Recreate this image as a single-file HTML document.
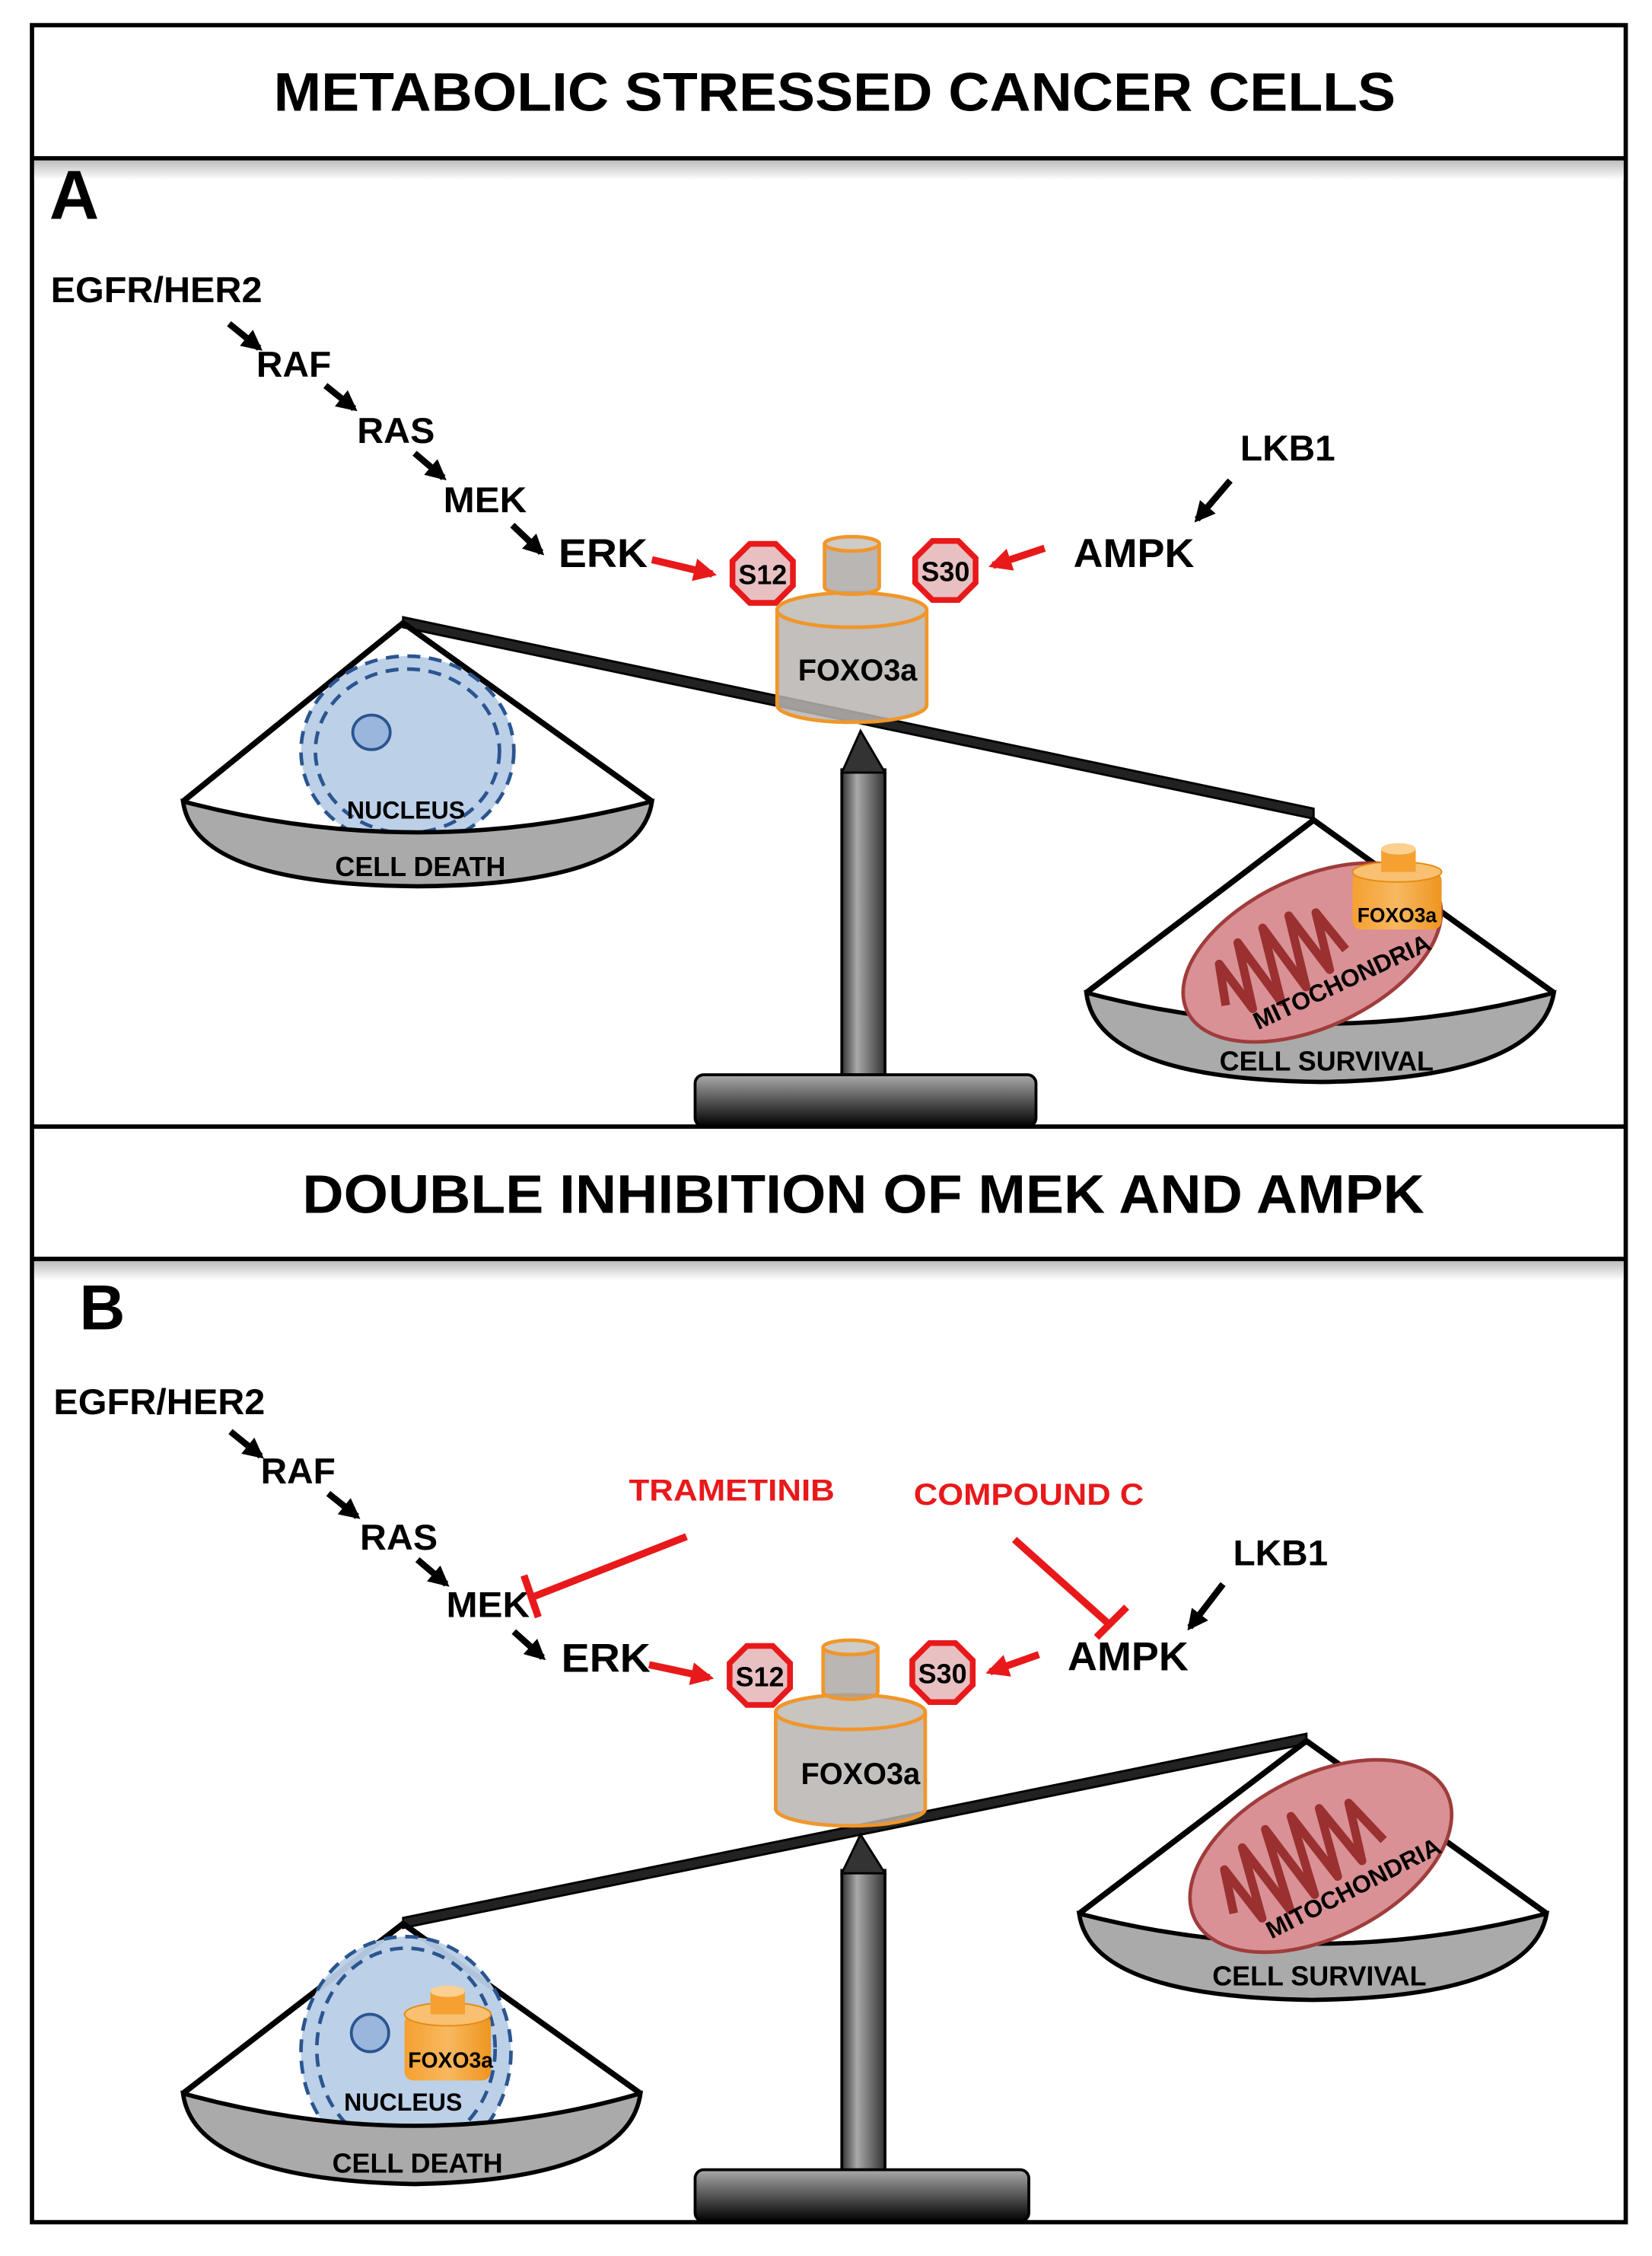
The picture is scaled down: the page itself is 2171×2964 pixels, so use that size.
<!DOCTYPE html>
<html><head><meta charset="utf-8"><style>html,body{margin:0;padding:0;background:#fff}svg{display:block}</style></head>
<body>
<svg width="2171" height="2964" viewBox="0 0 1148 1568" xmlns="http://www.w3.org/2000/svg" font-family="'Liberation Sans Narrow','Liberation Sans',sans-serif" font-weight="bold">
<defs>
<linearGradient id="shd" x1="0" y1="0" x2="0" y2="1"><stop offset="0" stop-color="#bbb"/><stop offset="1" stop-color="#fff"/></linearGradient>
<linearGradient id="post" x1="0" y1="0" x2="1" y2="0"><stop offset="0" stop-color="#333"/><stop offset="0.35" stop-color="#aaa"/><stop offset="1" stop-color="#333"/></linearGradient>
<linearGradient id="base" x1="0" y1="0" x2="0" y2="1"><stop offset="0" stop-color="#aaa"/><stop offset="1" stop-color="#000"/></linearGradient>
<linearGradient id="org" x1="0" y1="0" x2="1" y2="0"><stop offset="0" stop-color="#f5a030"/><stop offset="0.5" stop-color="#f8b860"/><stop offset="1" stop-color="#ef9520"/></linearGradient>
<marker id="ab" viewBox="0 0 10 10" refX="8" refY="5" markerWidth="3.2" markerHeight="3.2" orient="auto"><path d="M0,0L10,5L0,10z" fill="#000"/></marker>
<marker id="ar" viewBox="0 0 10 10" refX="8" refY="5" markerWidth="3.2" markerHeight="3.2" orient="auto"><path d="M0,0L10,5L0,10z" fill="#e8191b"/></marker>
</defs>
<rect x="22" y="17.5" width="1108" height="1527" fill="#fff" stroke="#000" stroke-width="3"/>
<rect x="23.5" y="111" width="1105" height="14" fill="url(#shd)"/>
<rect x="23.5" y="876" width="1105" height="14" fill="url(#shd)"/>
<line x1="22" y1="110" x2="1130" y2="110" stroke="#000" stroke-width="3"/>
<line x1="22" y1="783" x2="1130" y2="783" stroke="#000" stroke-width="3"/>
<line x1="22" y1="875" x2="1130" y2="875" stroke="#000" stroke-width="3"/>
<text x="580" y="77" font-size="38" text-anchor="middle" textLength="780" lengthAdjust="spacingAndGlyphs">METABOLIC STRESSED CANCER CELLS</text>
<text x="600" y="843" font-size="38" text-anchor="middle" textLength="780" lengthAdjust="spacingAndGlyphs">DOUBLE INHIBITION OF MEK AND AMPK</text>
<text x="34" y="152" font-size="48" font-family="'Liberation Sans',sans-serif">A</text>
<text x="55" y="924" font-size="44" font-family="'Liberation Sans',sans-serif">B</text>

<!-- ===== PANEL A ===== -->
<g font-size="25">
<text x="35" y="210" textLength="147" lengthAdjust="spacingAndGlyphs">EGFR/HER2</text>
<text x="178" y="262" textLength="52" lengthAdjust="spacingAndGlyphs">RAF</text>
<text x="248" y="308" textLength="54" lengthAdjust="spacingAndGlyphs">RAS</text>
<text x="308" y="356" textLength="58" lengthAdjust="spacingAndGlyphs">MEK</text>
<text x="862" y="320" textLength="66" lengthAdjust="spacingAndGlyphs">LKB1</text>
</g>
<text x="388" y="394" font-size="28" textLength="62" lengthAdjust="spacingAndGlyphs">ERK</text>
<text x="746" y="394" font-size="28" textLength="84" lengthAdjust="spacingAndGlyphs">AMPK</text>
<g stroke="#000" stroke-width="4.5" marker-end="url(#ab)">
<line x1="159" y1="225" x2="180" y2="242"/>
<line x1="226" y1="268" x2="246" y2="284"/>
<line x1="288" y1="315" x2="308" y2="332"/>
<line x1="356" y1="365" x2="376" y2="384"/>
<line x1="855" y1="334" x2="832" y2="361"/>
</g>
<g stroke="#e8191b" stroke-width="5" marker-end="url(#ar)">
<line x1="453" y1="389" x2="495" y2="399"/>
<line x1="726" y1="381" x2="690" y2="393"/>
</g>

<polygon points="280,429 913,562 913,569 280,436" fill="#222" stroke="#000" stroke-width="1.5"/>
<rect x="585" y="535" width="30" height="212" fill="url(#post)" stroke="#000" stroke-width="2"/>
<polygon points="598,508 585,537 615,537" fill="#333" stroke="#000" stroke-width="1.5"/>
<rect x="483" y="747" width="237" height="36" rx="6" fill="url(#base)" stroke="#000" stroke-width="2"/>
<path d="M127,557 L280,433 L453,557" fill="none" stroke="#000" stroke-width="4"/>
<ellipse cx="283" cy="522" rx="74" ry="66" fill="#b8cde6" opacity="0.95"/>
<ellipse cx="283" cy="522" rx="74" ry="66" fill="none" stroke="#2a5590" stroke-width="2.5" stroke-dasharray="9,6"/>
<ellipse cx="283" cy="522" rx="64" ry="57" fill="none" stroke="#2a5590" stroke-width="2.5" stroke-dasharray="9,6"/>
<ellipse cx="258" cy="509" rx="13" ry="12" fill="#9ab6dc" stroke="#2a5590" stroke-width="2"/>
<text x="282" y="569" font-size="17" text-anchor="middle">NUCLEUS</text>
<path d="M127,557 Q290,600 453,557 Q445,615 290,616 Q135,615 127,557z" fill="#aaa" stroke="#000" stroke-width="3"/>
<text x="292" y="609" font-size="19" text-anchor="middle">CELL DEATH</text>
<path d="M755,690 L913,570 L1080,690" fill="none" stroke="#000" stroke-width="4"/>
<path d="M755,690 Q918,733 1080,690 Q1070,750 918,752 Q762,750 755,690z" fill="#aaa" stroke="#000" stroke-width="3"/>
<text x="922" y="744" font-size="19" text-anchor="middle">CELL SURVIVAL</text>
<g transform="translate(912,662) rotate(-25)">
<ellipse cx="0" cy="0" rx="96" ry="52" fill="#d99195" stroke="#a03c3c" stroke-width="2.5"/>
<polyline points="-70,8 -62,-20 -54,18 -44,-28 -34,22 -24,-30 -14,20 -4,-30 6,16 14,-24 22,8" fill="none" stroke="#9a3030" stroke-width="6" stroke-linejoin="round"/>
<text x="10" y="33" font-size="17" text-anchor="middle">MITOCHONDRIA</text>
</g>
<g>
<rect x="940" y="606" width="62" height="40" rx="6" fill="url(#org)"/>
<ellipse cx="971" cy="606" rx="31" ry="7" fill="#f8c070" stroke="#e58a10" stroke-width="1"/>
<rect x="960" y="590" width="24" height="16" fill="#f5a030"/>
<ellipse cx="972" cy="590" rx="12" ry="4" fill="#fbd090"/>
<text x="971" y="641" font-size="14" text-anchor="middle">FOXO3a</text>
</g>
<g>
<path d="M540,424 L540,490 A52,12 0 0 0 644,490 L644,424" fill="#b8b4b0" fill-opacity="0.85" stroke="#f0962a" stroke-width="2.5"/>
<ellipse cx="592" cy="424" rx="52" ry="12" fill="#c8c4c0" stroke="#f0962a" stroke-width="2.5"/>
<path d="M573,378 L573,408 A19,5 0 0 0 611,408 L611,378" fill="#a8a4a0" fill-opacity="0.8" stroke="#f0962a" stroke-width="2.5"/>
<ellipse cx="592" cy="378" rx="19" ry="5" fill="#cfcbc7" stroke="#f0962a" stroke-width="2.5"/>
<text x="596" y="473" font-size="21" text-anchor="middle">FOXO3a</text>
</g>
<g fill="#e8c0c2" stroke="#e8191b" stroke-width="4">
<polygon points="521,378 539,378 551,390 551,407 539,419 521,419 509,407 509,390"/>
<polygon points="648,376 666,376 678,388 678,405 666,417 648,417 636,405 636,388"/>
</g>
<text x="530" y="406" font-size="19" text-anchor="middle">S12</text>
<text x="657" y="404" font-size="19" text-anchor="middle">S30</text>

<!-- ===== PANEL B ===== -->
<g font-size="25">
<text x="37" y="983" textLength="147" lengthAdjust="spacingAndGlyphs">EGFR/HER2</text>
<text x="181" y="1031" textLength="52" lengthAdjust="spacingAndGlyphs">RAF</text>
<text x="250" y="1077" textLength="54" lengthAdjust="spacingAndGlyphs">RAS</text>
<text x="310" y="1124" textLength="58" lengthAdjust="spacingAndGlyphs">MEK</text>
<text x="857" y="1088" textLength="66" lengthAdjust="spacingAndGlyphs">LKB1</text>
</g>
<text x="390" y="1162" font-size="28" textLength="62" lengthAdjust="spacingAndGlyphs">ERK</text>
<text x="742" y="1161" font-size="28" textLength="84" lengthAdjust="spacingAndGlyphs">AMPK</text>
<g fill="#e8191b" font-size="21">
<text x="437" y="1043" textLength="143" lengthAdjust="spacingAndGlyphs">TRAMETINIB</text>
<text x="635" y="1046" textLength="160" lengthAdjust="spacingAndGlyphs">COMPOUND C</text>
</g>
<g stroke="#000" stroke-width="4.5" marker-end="url(#ab)">
<line x1="160" y1="995" x2="181" y2="1012"/>
<line x1="228" y1="1038" x2="248" y2="1054"/>
<line x1="290" y1="1084" x2="310" y2="1101"/>
<line x1="357" y1="1134" x2="377" y2="1152"/>
<line x1="850" y1="1101" x2="827" y2="1131"/>
</g>
<g stroke="#e8191b" stroke-width="5" marker-end="url(#ar)">
<line x1="451" y1="1157" x2="493" y2="1166"/>
<line x1="722" y1="1150" x2="688" y2="1162"/>
</g>
<g stroke="#e8191b" stroke-width="5">
<line x1="477" y1="1068" x2="370" y2="1110"/>
<line x1="364" y1="1095" x2="374" y2="1124"/>
<line x1="705" y1="1070" x2="772" y2="1130"/>
<line x1="762" y1="1138" x2="783" y2="1117"/>
</g>

<polygon points="280,1333 908,1205 908,1212 280,1340" fill="#222" stroke="#000" stroke-width="1.5"/>
<rect x="585" y="1300" width="30" height="210" fill="url(#post)" stroke="#000" stroke-width="2"/>
<polygon points="598,1275 585,1302 615,1302" fill="#333" stroke="#000" stroke-width="1.5"/>
<rect x="483" y="1508" width="232" height="36" rx="6" fill="url(#base)" stroke="#000" stroke-width="2"/>
<path d="M127,1455 L280,1337 L445,1455" fill="none" stroke="#000" stroke-width="4"/>
<ellipse cx="282" cy="1426" rx="73" ry="80" fill="#b8cde6" opacity="0.95"/>
<ellipse cx="282" cy="1426" rx="73" ry="80" fill="none" stroke="#2a5590" stroke-width="2.5" stroke-dasharray="9,6"/>
<ellipse cx="282" cy="1424" rx="62" ry="70" fill="none" stroke="#2a5590" stroke-width="2.5" stroke-dasharray="9,6"/>
<ellipse cx="257" cy="1413" rx="13" ry="13" fill="#9ab6dc" stroke="#2a5590" stroke-width="2"/>
<g>
<rect x="281" y="1400" width="60" height="46" rx="6" fill="url(#org)"/>
<ellipse cx="311" cy="1400" rx="30" ry="8" fill="#f8c070" stroke="#e58a10" stroke-width="1"/>
<rect x="299" y="1384" width="24" height="16" fill="#f5a030"/>
<ellipse cx="311" cy="1384" rx="12" ry="4" fill="#fbd090"/>
<text x="313" y="1437" font-size="15" text-anchor="middle">FOXO3a</text>
</g>
<text x="280" y="1467" font-size="17" text-anchor="middle">NUCLEUS</text>
<path d="M127,1455 Q290,1500 445,1455 Q437,1515 288,1518 Q135,1515 127,1455z" fill="#aaa" stroke="#000" stroke-width="3"/>
<text x="290" y="1510" font-size="19" text-anchor="middle">CELL DEATH</text>
<path d="M750,1330 L908,1210 L1075,1330" fill="none" stroke="#000" stroke-width="4"/>
<path d="M750,1330 Q912,1372 1075,1330 Q1065,1388 912,1390 Q758,1388 750,1330z" fill="#aaa" stroke="#000" stroke-width="3"/>
<text x="917" y="1380" font-size="19" text-anchor="middle">CELL SURVIVAL</text>
<g transform="translate(918,1290) rotate(-27)">
<ellipse cx="0" cy="0" rx="98" ry="56" fill="#d99195" stroke="#a03c3c" stroke-width="2.5"/>
<polyline points="-72,8 -64,-22 -56,20 -46,-30 -36,24 -26,-34 -16,22 -6,-34 4,18 14,-30 24,16 34,-24 44,10" fill="none" stroke="#9a3030" stroke-width="6" stroke-linejoin="round"/>
<text x="10" y="36" font-size="17" text-anchor="middle">MITOCHONDRIA</text>
</g>
<g>
<path d="M539,1190 L539,1257 A52,12 0 0 0 643,1257 L643,1190" fill="#b8b4b0" fill-opacity="0.85" stroke="#f0962a" stroke-width="2.5"/>
<ellipse cx="591" cy="1190" rx="52" ry="12" fill="#c8c4c0" stroke="#f0962a" stroke-width="2.5"/>
<path d="M572,1145 L572,1176 A19,5 0 0 0 610,1176 L610,1145" fill="#a8a4a0" fill-opacity="0.8" stroke="#f0962a" stroke-width="2.5"/>
<ellipse cx="591" cy="1145" rx="19" ry="5" fill="#cfcbc7" stroke="#f0962a" stroke-width="2.5"/>
<text x="598" y="1240" font-size="21" text-anchor="middle">FOXO3a</text>
</g>
<g fill="#e8c0c2" stroke="#e8191b" stroke-width="4">
<polygon points="519,1144 537,1144 549,1156 549,1173 537,1185 519,1185 507,1173 507,1156"/>
<polygon points="646,1142 664,1142 676,1154 676,1171 664,1183 646,1183 634,1171 634,1154"/>
</g>
<text x="528" y="1172" font-size="19" text-anchor="middle">S12</text>
<text x="655" y="1170" font-size="19" text-anchor="middle">S30</text>
</svg>
</body></html>
